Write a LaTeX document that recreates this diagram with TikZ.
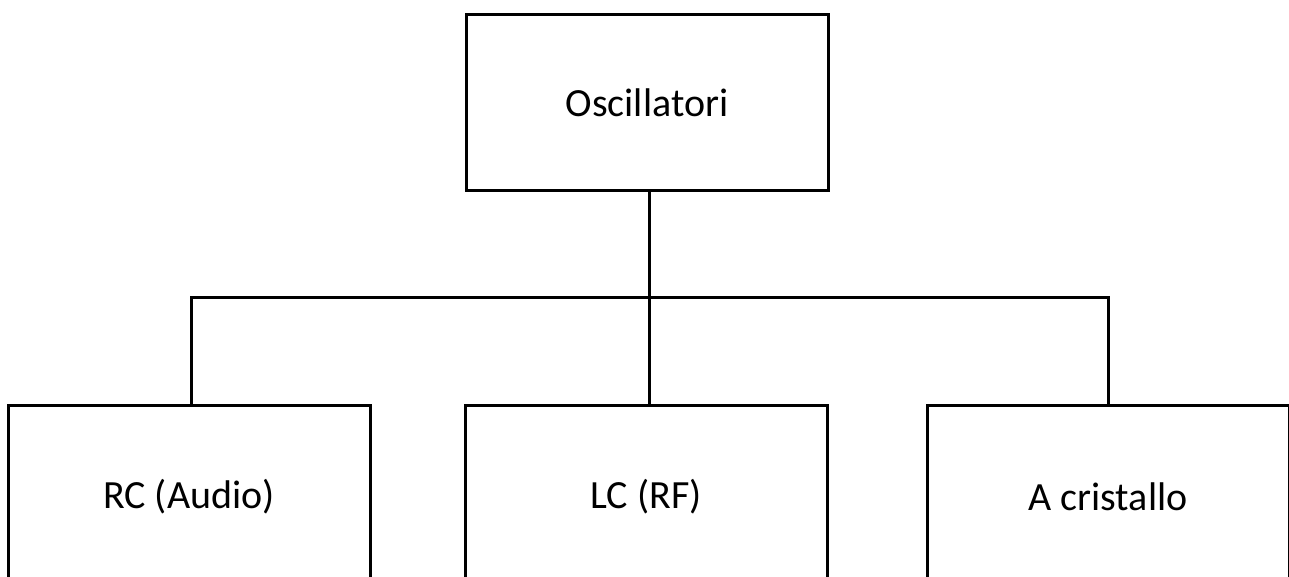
\documentclass[tikz,border=0pt]{standalone}
\usepackage{fontspec}
\setmainfont{Carlito}
\begin{document}
\begin{tikzpicture}[x=1pt,y=-1pt,
  box/.style={draw=black,line width=3pt,minimum width=362pt,minimum height=176pt,inner sep=0pt,font=\fontsize{40}{48}\selectfont},
  lowbox/.style={box,minimum height=184pt},
  wire/.style={draw=black,line width=3pt}]
\useasboundingbox (0,0) rectangle (1289,577);
\clip (0,0) rectangle (1289,577);
\node[box] (top) at (647,103) {Oscillatori};
\node[lowbox] (left) at (189,497) {RC (Audio)};
\node[lowbox] (mid) at (646,497) {LC (RF)};
\node[lowbox] (right) at (1108,497) {A cristallo};
\coordinate (bus) at (649,297);
\draw[wire] (top.south -| bus) -- (mid.north -| bus);
\draw[wire] (left.north -| 191,0) |- (bus) -| (right.north);
\end{tikzpicture}
\end{document}
